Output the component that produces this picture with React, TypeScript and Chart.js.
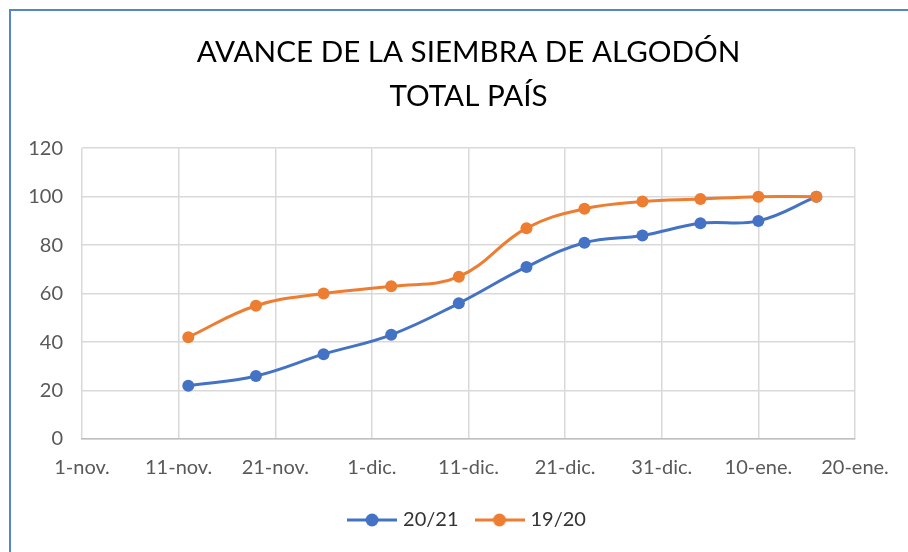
import React, { useEffect, useRef } from "react";
import { Chart, registerables } from "chart.js";

Chart.register(...registerables);

const TITLE_LINES = ["AVANCE DE LA SIEMBRA DE ALGODÓN", "TOTAL PAÍS"];
const X_TICK_LABELS = ["1-nov.", "11-nov.", "21-nov.", "1-dic.", "11-dic.", "21-dic.", "31-dic.", "10-ene.", "20-ene."];
// report dates, as days counted from 1-nov
const REPORT_DAYS = [11, 18, 25, 32, 39, 46, 52, 58, 64, 70, 76];
const SERIES_2021 = [22, 26, 35, 43, 56, 71, 81, 84, 89, 90, 100];
const SERIES_1920 = [42, 55, 60, 63, 67, 87, 95, 98, 99, 100, 100];
const SERIES_NAMES = ["20/21", "19/20"];
const Y_MIN = 0;
const Y_MAX = 120;
const Y_STEP = 20;
const X_MAX = 80;
const X_STEP = 10;

const BLUE = "#4472C4";
const ORANGE = "#ED7D31";
const GRID = "#d9d9d9";
const FONT = "Lato, 'Open Sans', sans-serif";

function makeLegendIcon(color: string): HTMLCanvasElement {
  const c = document.createElement("canvas");
  c.width = 50;
  c.height = 14;
  const ctx = c.getContext("2d")!;
  ctx.strokeStyle = color;
  ctx.lineWidth = 3;
  ctx.beginPath();
  ctx.moveTo(0, 7);
  ctx.lineTo(50, 7);
  ctx.stroke();
  ctx.fillStyle = color;
  ctx.beginPath();
  ctx.arc(25, 7, 6.5, 0, Math.PI * 2);
  ctx.fill();
  return c;
}

export default function App() {
  const ref = useRef<HTMLCanvasElement | null>(null);

  useEffect(() => {
    if (!ref.current) return;
    const icons = [makeLegendIcon(BLUE), makeLegendIcon(ORANGE)];
    const colors = [BLUE, ORANGE];
    const chart = new Chart(ref.current, {
      type: "line",
      data: {
        datasets: [
          {
            label: SERIES_NAMES[0],
            data: REPORT_DAYS.map((d, i) => ({ x: d, y: SERIES_2021[i] })),
            borderColor: BLUE,
            backgroundColor: BLUE,
            borderWidth: 3,
            pointRadius: 6,
            pointHoverRadius: 6,
            pointBorderWidth: 0,
            tension: 0.4,
            order: 1,
          },
          {
            label: SERIES_NAMES[1],
            data: REPORT_DAYS.map((d, i) => ({ x: d, y: SERIES_1920[i] })),
            borderColor: ORANGE,
            backgroundColor: ORANGE,
            borderWidth: 3,
            pointRadius: 6,
            pointHoverRadius: 6,
            pointBorderWidth: 0,
            tension: 0.4,
            order: 0,
          },
        ],
      },
      options: {
        animation: false,
        responsive: false,
        layout: { padding: { top: 0, right: 53, bottom: 12, left: 0 } },
        plugins: {
          title: {
            display: true,
            text: TITLE_LINES,
            fullSize: false,
            color: "#000000",
            font: { family: FONT, size: 29.6, weight: "normal", lineHeight: 1.49 },
            padding: { top: 30, bottom: 30 },
          },
          legend: {
            position: "bottom",
            fullSize: false,
            labels: {
              usePointStyle: true,
              pointStyleWidth: 42,
              padding: 20,
              color: "#333333",
              font: { family: FONT, size: 20 },
              generateLabels: () =>
                SERIES_NAMES.map((name, i) => ({
                  text: name,
                  pointStyle: icons[i] as any,
                  fillStyle: colors[i],
                  strokeStyle: colors[i],
                  lineWidth: 0,
                  hidden: false,
                  datasetIndex: i,
                  fontColor: "#333333",
                })),
            },
          },
          tooltip: { enabled: false },
        },
        scales: {
          x: {
            type: "linear",
            min: 0,
            max: X_MAX,
            ticks: {
              stepSize: X_STEP,
              autoSkip: false,
              maxRotation: 0,
              padding: 17,
              color: "#595959",
              font: { family: FONT, size: 20 },
              callback: (v: any) => X_TICK_LABELS[Math.round(Number(v) / X_STEP)] ?? "",
            },
            grid: { color: GRID, lineWidth: 1.5, drawTicks: false },
            border: { color: "#bfbfbf", width: 1.5 },
            afterFit: (s: any) => {
              s.height = 51;
            },
          },
          y: {
            min: Y_MIN,
            max: Y_MAX,
            ticks: {
              stepSize: Y_STEP,
              padding: 19,
              color: "#595959",
              font: { family: FONT, size: 20 },
            },
            grid: { color: GRID, lineWidth: 1.5, drawTicks: false },
            border: { display: false },
            afterFit: (s: any) => {
              s.width = 82;
            },
          },
        },
      },
    });
    return () => chart.destroy();
  }, []);

  return (
    <div style={{ position: "absolute", left: 0, top: 0, width: 908, height: 552, background: "#ffffff", overflow: "hidden" }}>
      <div
        style={{
          position: "absolute",
          left: 9,
          top: 9,
          width: 920,
          height: 560,
          borderTop: "2px solid #5585cc",
          borderLeft: "2px solid #5585cc",
        }}
      />
      <canvas ref={ref} width={908} height={552} style={{ position: "absolute", left: 0, top: 0 }} />
    </div>
  );
}
